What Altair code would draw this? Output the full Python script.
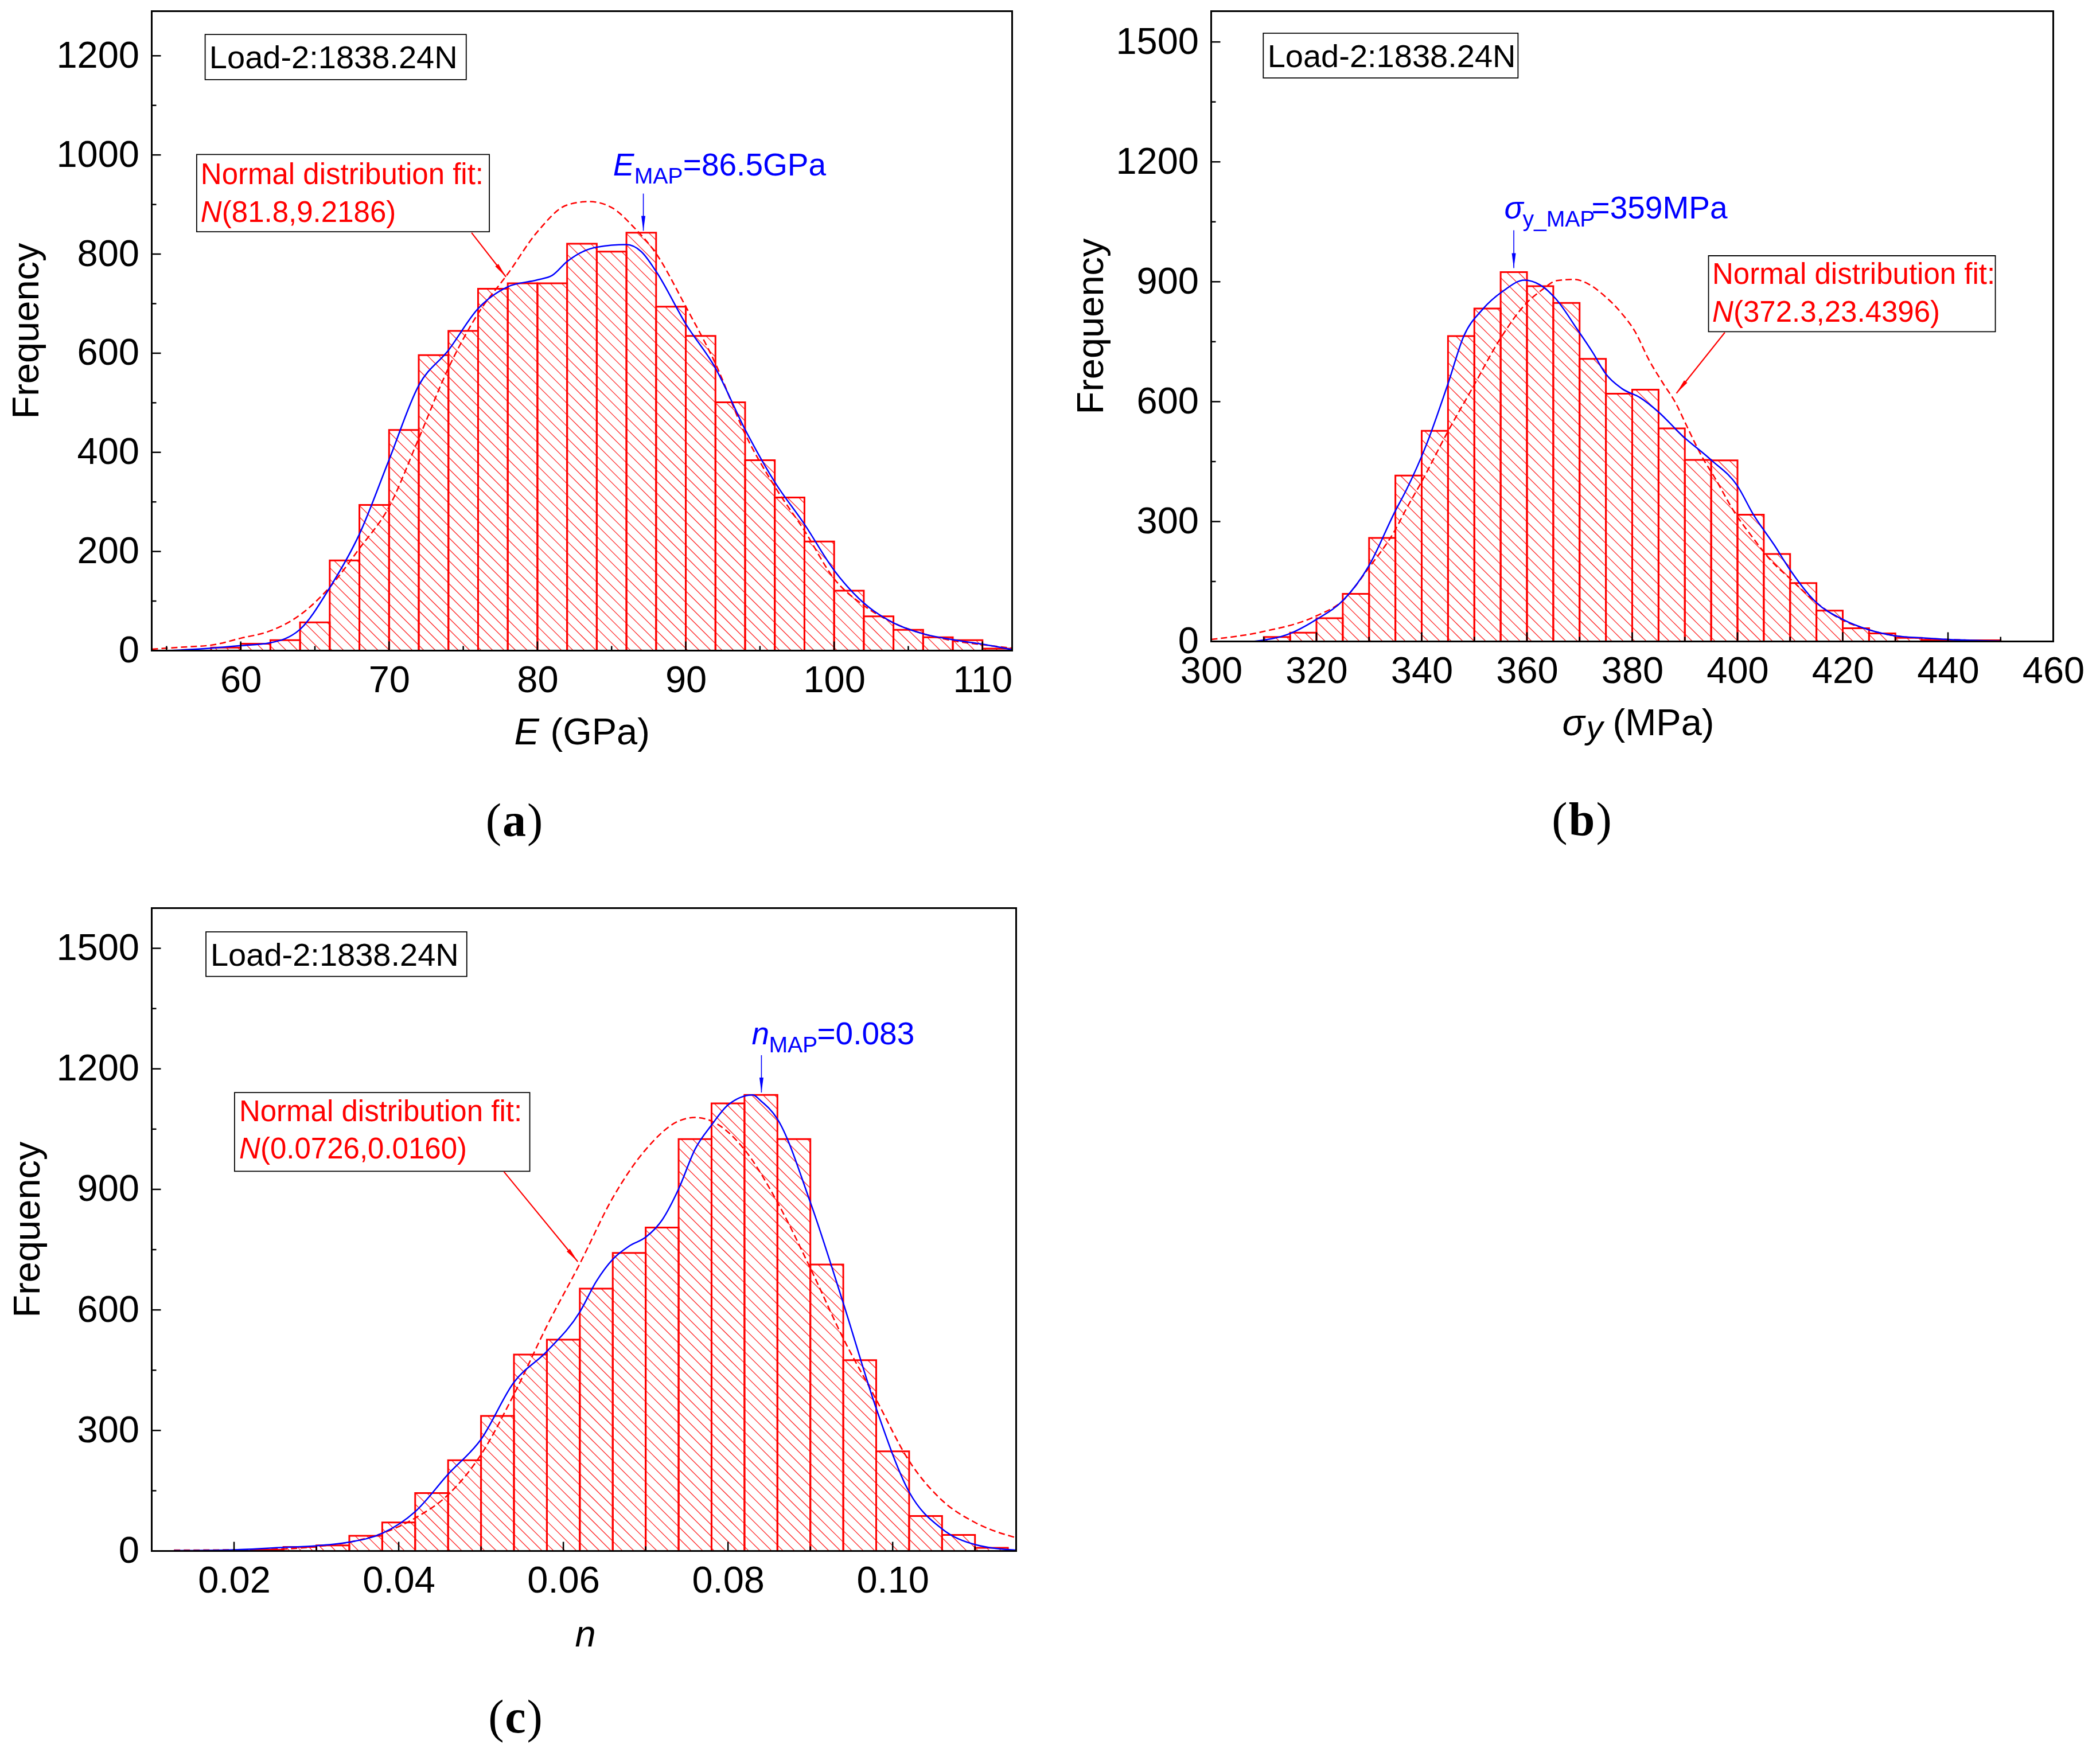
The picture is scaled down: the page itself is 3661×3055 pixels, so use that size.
import math

import altair as alt
import pandas as pd

RED = "#ff0000"
BLUE = "#0000ff"
SANS = "Liberation Sans"
SERIF = "Liberation Serif"

# ---------------- (a) elastic modulus E ----------------
E_BIN_LEFT = [58, 60, 62, 64, 66, 68, 70, 72, 74, 76, 78, 80, 82, 84, 86, 88, 90, 92, 94, 96,
              98, 100, 102, 104, 106, 108, 110]
E_COUNT = [6, 14, 21, 57, 182, 294, 445, 596, 645, 730, 741, 741, 821, 805, 843, 694, 635, 501,
           384, 309, 220, 121, 69, 42, 27, 21, 4]
E_KDE_X = [55, 58, 60, 62, 64, 66, 68, 70, 72, 74, 76, 78, 80, 81, 82, 84, 86, 87, 88, 90, 92,
           94, 96, 98, 100, 102, 104, 106, 108, 110, 112]
E_KDE_Y = [0, 5, 10, 16, 43, 127, 235, 385, 535, 606, 690, 734, 748, 757, 785, 814, 819, 805,
           765, 659, 570, 446, 340, 255, 162, 96, 56, 34, 22, 13, 2]
E_FIT_X = [54, 56, 58, 60, 62, 64, 66, 68, 70, 72, 74, 76, 78, 80, 82, 83.5, 85, 86.5, 88, 90,
           92, 94, 96, 98, 100, 102, 104, 106, 108, 110, 112]
E_FIT_Y = [3, 7, 11, 25, 40, 72, 128, 206, 290, 428, 570, 680, 760, 845, 899, 906, 894, 854, 801,
           694, 579, 437, 331, 242, 145, 91, 56, 34, 20, 12, 5]

# ---------------- (b) yield stress sigma_y ----------------
S_BIN_LEFT = [310, 315, 320, 325, 330, 335, 340, 345, 350, 355, 360, 365, 370, 375, 380, 385,
              390, 395, 400, 405, 410, 415, 420, 425, 430, 435, 440, 445]
S_COUNT = [11, 22, 58, 119, 259, 415, 527, 764, 833, 924, 889, 847, 707, 620, 630, 533, 454,
           453, 317, 219, 146, 77, 33, 20, 9, 4, 3, 3]
S_KDE_X = [308, 315, 320, 325, 330, 335, 337, 341, 345, 348, 351.5, 355.5, 359.5, 362.5, 365.5,
           369.5, 372.5, 375, 378, 381.5, 385, 389.5, 395, 400, 403, 407, 410, 415, 420, 425,
           430, 435, 440, 450]
S_KDE_Y = [0, 20, 55, 102, 190, 327, 377, 496, 645, 764, 830, 877, 904, 892, 857, 782, 723, 669,
           633, 610, 574, 515, 454, 389, 318, 241, 179, 97, 55, 29, 14, 9, 5, 1]
S_FIT_X = [300, 310, 320, 325, 330, 335, 337, 340, 345, 349.6, 355, 360, 362.6, 365.7, 368.9,
           371.6, 374.7, 377.8, 380.5, 383.2, 385.9, 388.2, 390.4, 393.1, 395.8, 399.4, 403,
           406.6, 410, 415, 420, 425, 430, 440, 450]
S_FIT_Y = [5, 25, 64, 102, 185, 280, 330, 400, 526, 633, 759, 848, 877, 903, 906, 895, 865, 824,
           776, 704, 645, 598, 538, 466, 407, 324, 258, 199, 157, 97, 53, 29, 14, 5, 2]

# ---------------- (c) hardening exponent n ----------------
N_BIN_LEFT = [0.022, 0.026, 0.030, 0.034, 0.038, 0.042, 0.046, 0.050, 0.054, 0.058, 0.062,
              0.066, 0.070, 0.074, 0.078, 0.082, 0.086, 0.090, 0.094, 0.098, 0.102, 0.106, 0.110]
N_COUNT = [3, 10, 14, 38, 71, 144, 226, 336, 489, 526, 653, 742, 805, 1025, 1114, 1135, 1025,
           713, 475, 248, 87, 40, 8]
N_KDE_X = [0.0127, 0.020, 0.026, 0.030, 0.034, 0.038, 0.042, 0.046, 0.050, 0.054, 0.058, 0.062,
           0.064, 0.066, 0.068, 0.070, 0.072, 0.074, 0.076, 0.078, 0.080, 0.083, 0.084, 0.086,
           0.090, 0.094, 0.098, 0.102, 0.106, 0.110, 0.115]
N_KDE_Y = [1, 3, 9, 13, 22, 44, 98, 191, 278, 420, 497, 595, 671, 726, 759, 781, 824, 901, 1000,
           1060, 1110, 1135, 1120, 1075, 868, 617, 355, 147, 55, 16, 2]
N_FIT_X = [0.0127, 0.020, 0.026, 0.030, 0.034, 0.038, 0.042, 0.046, 0.050, 0.054, 0.058, 0.062,
           0.066, 0.070, 0.074, 0.076, 0.078, 0.082, 0.086, 0.090, 0.094, 0.098, 0.102, 0.106,
           0.110, 0.115]
N_FIT_Y = [2, 3, 5, 11, 22, 44, 82, 140, 240, 390, 560, 715, 879, 999, 1070, 1079, 1070, 999,
           868, 704, 529, 377, 224, 126, 71, 33]


def hatch_segments(left, width, count, xd, yd, w, h, step=20):
    """45-degree hatch lines clipped to each bar, returned in data units."""
    px = w / (xd[1] - xd[0])
    py = h / (yd[1] - yd[0])
    rows = []
    for l, c in zip(left, count):
        L = (l - xd[0]) * px
        R = (l + width - xd[0]) * px
        T = (yd[1] - c) * py
        B = (yd[1] - 0) * py
        for k in range(math.floor((T - R) / step), math.ceil((B - L) / step) + 1):
            off = k * step
            xs_, xe_ = max(L, T - off), min(R, B - off)
            if xe_ - xs_ > 0.5:
                rows.append({"x": xd[0] + xs_ / px, "x2": xd[0] + xe_ / px,
                             "y": yd[1] - (xs_ + off) / py, "y2": yd[1] - (xe_ + off) / py})
    return pd.DataFrame(rows)


def make_panel(p):
    xd, yd, w, h = p["xdom"], p["ydom"], p["w"], p["h"]
    xs = alt.Scale(domain=xd, nice=False, zero=False)
    ys = alt.Scale(domain=yd, nice=False, zero=False)
    # same axis object everywhere so the layers merge into one axis
    xax = alt.Axis(values=p["xlabels"], format=p["xfmt"], title=None)
    yax = alt.Axis(values=p["ylabels"], format="d", title=None)

    def X(f):
        return alt.X(f, type="quantitative", scale=xs, axis=xax)

    def Y(f):
        return alt.Y(f, type="quantitative", scale=ys, axis=yax)

    def dtext(x, y, t, size, color="black", style="normal", dx=0, dy=0):
        return alt.Chart(pd.DataFrame({"x": [x], "y": [y], "t": [t]})).mark_text(
            align="left", baseline="alphabetic", font=SANS, fontSize=size,
            fontStyle=style, color=color, dx=dx, dy=dy,
        ).encode(x=X("x"), y=Y("y"), text="t:N")

    def ptext(px_, py_, t, size, style="normal", weight="normal", align="left",
              font=SANS, angle=0, baseline="alphabetic"):
        return alt.Chart(pd.DataFrame({"t": [t]})).mark_text(
            align=align, baseline=baseline, font=font, fontSize=size, fontStyle=style,
            fontWeight=weight, color="black", angle=angle,
        ).encode(x=alt.value(px_), y=alt.value(py_), text="t:N")

    layers = []

    # hatching
    hat = hatch_segments(p["left"], p["bin"], p["count"], xd, yd, w, h)
    layers.append(
        alt.Chart(hat).mark_rule(color=RED, strokeWidth=1.3, opacity=0.85).encode(
            x=X("x"), x2="x2", y=Y("y"), y2="y2"
        )
    )

    # bar outlines
    bars = pd.DataFrame({"x": p["left"], "count": p["count"]})
    bars["x2"] = bars["x"] + p["bin"]
    bars["y0"] = 0
    layers.append(
        alt.Chart(bars).mark_rect(fillOpacity=0, stroke=RED, strokeWidth=3).encode(
            x=X("x"), x2="x2", y=Y("y0"), y2="count"
        )
    )

    # normal fit (dashed) and density (blue)
    layers.append(
        alt.Chart(pd.DataFrame({"x": p["fit_x"], "y": p["fit_y"]})).mark_line(
            color=RED, strokeWidth=2.5, strokeDash=[11, 6], interpolate="monotone"
        ).encode(x=X("x"), y=Y("y"))
    )
    layers.append(
        alt.Chart(pd.DataFrame({"x": p["kde_x"], "y": p["kde_y"]})).mark_line(
            color=BLUE, strokeWidth=2.5, interpolate="monotone"
        ).encode(x=X("x"), y=Y("y"))
    )

    # annotation boxes
    a = p["ann"]
    boxes = pd.DataFrame([a["load_box"], a["fit_box"]], columns=["x", "x2", "y", "y2"])
    layers.append(
        alt.Chart(boxes).mark_rect(fill="white", stroke="black", strokeWidth=1.8).encode(
            x=X("x"), x2="x2", y=Y("y"), y2="y2"
        )
    )
    layers.append(dtext(a["load_txt"][0], a["load_txt"][1], "Load-2:1838.24N", 56))
    fx, fy1, fy2 = a["fit_txt"]
    layers.append(dtext(fx, fy1, "Normal distribution fit:", 51, RED))
    layers.append(dtext(fx, fy2, "N", 51, RED, "italic"))
    layers.append(dtext(fx, fy2, a["fit_par"], 51, RED, dx=37))

    mx, my = a["map_txt"]
    sym, sub, val = a["map_parts"]
    d1, d2 = a["map_dx"]
    layers.append(dtext(mx, my, sym, 55, BLUE, "italic"))
    layers.append(dtext(mx, my, sub, 39, BLUE, dx=d1, dy=14))
    layers.append(dtext(mx, my, val, 55, BLUE, dx=d2))

    # arrows
    arr = pd.DataFrame([a["fit_arrow"] + [RED, 2.2], a["map_arrow"] + [BLUE, 1.6]],
                       columns=["x", "y", "x2", "y2", "c", "sw"])
    sx = w / (xd[1] - xd[0])
    sy = h / (yd[1] - yd[0])
    arr["ang"] = [
        math.degrees(math.atan2((r.x2 - r.x) * sx, (r.y2 - r.y) * sy)) % 360
        for r in arr.itertuples()
    ]
    layers.append(
        alt.Chart(arr).mark_rule().encode(
            x=X("x"), x2="x2", y=Y("y"), y2="y2",
            color=alt.Color("c:N", scale=None),
            strokeWidth=alt.StrokeWidth("sw:Q", scale=None),
        )
    )
    layers.append(
        alt.Chart(arr).mark_point(
            shape="M0,0L0.27,2L-0.27,2Z", filled=True, size=676, opacity=1
        ).encode(
            x=X("x2"), y=Y("y2"),
            color=alt.Color("c:N", scale=None),
            angle=alt.Angle("ang:Q", scale=None),
        )
    )

    # inward ticks
    for vals, ln in ((p["xmaj"], 16), (p["xmin"], 8)):
        layers.append(
            alt.Chart(pd.DataFrame({"v": vals})).mark_rule(color="black", strokeWidth=2.5).encode(
                x=X("v"), y=alt.value(h), y2=alt.value(h - ln)
            )
        )
    for vals, ln in ((p["ymaj"], 16), (p["ymin"], 8)):
        layers.append(
            alt.Chart(pd.DataFrame({"v": vals})).mark_rule(color="black", strokeWidth=2.5).encode(
                y=Y("v"), x=alt.value(0), x2=alt.value(ln)
            )
        )

    # frame on top
    layers.append(
        alt.Chart(pd.DataFrame({"a": [0]})).mark_rect(
            fillOpacity=0, stroke="black", strokeWidth=3
        ).encode(x=alt.value(0), x2=alt.value(w), y=alt.value(0), y2=alt.value(h))
    )

    # axis titles and panel letter
    layers.append(ptext(p["ytitle_x"], h / 2, "Frequency", 65, align="center",
                        angle=270, baseline="middle"))
    for t, px_, py_, size, style in p["xtitle"]:
        layers.append(ptext(px_, py_, t, size, style=style))
    cx, cy, letter, half = p["letter"]
    layers.append(ptext(cx - half, cy, "(", 82, align="right", font=SERIF))
    layers.append(ptext(cx, cy, letter, 82, weight="bold", align="center", font=SERIF))
    layers.append(ptext(cx + half, cy, ")", 82, align="left", font=SERIF))

    return alt.layer(*layers).properties(width=w, height=h)


panel_a = make_panel({
    "xdom": [54, 112], "ydom": [0, 1290], "w": 1500, "h": 1115,
    "left": E_BIN_LEFT, "bin": 2, "count": E_COUNT,
    "kde_x": E_KDE_X, "kde_y": E_KDE_Y, "fit_x": E_FIT_X, "fit_y": E_FIT_Y,
    "xlabels": [60, 70, 80, 90, 100, 110], "xfmt": "d",
    "ylabels": [0, 200, 400, 600, 800, 1000, 1200],
    "xmaj": [60, 70, 80, 90, 100, 110], "xmin": [55, 65, 75, 85, 95, 105],
    "ymaj": [200, 400, 600, 800, 1000, 1200], "ymin": [100, 300, 500, 700, 900, 1100],
    "ann": {
        "load_box": [57.6, 75.2, 1243, 1152], "load_txt": [57.88, 1175],
        "fit_box": [57.03, 76.76, 1001, 845], "fit_txt": [57.3, 941, 865],
        "fit_par": "(81.8,9.2186)",
        "fit_arrow": [75.56, 843, 77.88, 754],
        "map_txt": [85.1, 958], "map_parts": ["E", "MAP", "=86.5GPa"], "map_dx": [37, 122],
        "map_arrow": [87.14, 922, 87.14, 847],
    },
    "ytitle_x": -218,
    "xtitle": [("E", 632, 1278, 65, "italic"), ("(GPa)", 695, 1278, 65, "normal")],
    "letter": (632, 1438, "a", 22.5),
})

panel_b = make_panel({
    "xdom": [300, 460], "ydom": [0, 1577], "w": 1468, "h": 1099,
    "left": S_BIN_LEFT, "bin": 5, "count": S_COUNT,
    "kde_x": S_KDE_X, "kde_y": S_KDE_Y, "fit_x": S_FIT_X, "fit_y": S_FIT_Y,
    "xlabels": [300, 320, 340, 360, 380, 400, 420, 440, 460], "xfmt": "d",
    "ylabels": [0, 300, 600, 900, 1200, 1500],
    "xmaj": [320, 340, 360, 380, 400, 420, 440], "xmin": [310, 330, 350, 370, 390, 410, 430, 450],
    "ymaj": [300, 600, 900, 1200, 1500], "ymin": [150, 450, 750, 1050, 1350],
    "ann": {
        "load_box": [309.9, 358.3, 1522, 1410], "load_txt": [310.7, 1437],
        "fit_box": [394.5, 449.0, 965, 775], "fit_txt": [395.2, 894, 800],
        "fit_par": "(372.3,23.4396)",
        "fit_arrow": [397.6, 773, 388.4, 621],
        "map_txt": [355.7, 1058], "map_parts": ["σ", "y_MAP", "=359MPa"], "map_dx": [32, 152],
        "map_arrow": [357.5, 1029, 357.5, 934],
    },
    "ytitle_x": -209,
    "xtitle": [("σ", 612, 1262, 65, "italic"), ("y", 654, 1268, 58, "italic"),
               ("(MPa)", 700, 1262, 65, "normal")],
    "letter": (646, 1436, "b", 25),
})

panel_c = make_panel({
    "xdom": [0.01, 0.115], "ydom": [0, 1600], "w": 1507, "h": 1121,
    "left": N_BIN_LEFT, "bin": 0.004, "count": N_COUNT,
    "kde_x": N_KDE_X, "kde_y": N_KDE_Y, "fit_x": N_FIT_X, "fit_y": N_FIT_Y,
    "xlabels": [0.02, 0.04, 0.06, 0.08, 0.10], "xfmt": ".2f",
    "ylabels": [0, 300, 600, 900, 1200, 1500],
    "xmaj": [0.02, 0.04, 0.06, 0.08, 0.10], "xmin": [0.03, 0.05, 0.07, 0.09, 0.11],
    "ymaj": [300, 600, 900, 1200, 1500], "ymin": [150, 450, 750, 1050, 1350],
    "ann": {
        "load_box": [0.01659, 0.04827, 1541, 1430], "load_txt": [0.01714, 1457],
        "fit_box": [0.02006, 0.05592, 1141, 945], "fit_txt": [0.02062, 1070, 977],
        "fit_par": "(0.0726,0.0160)",
        "fit_arrow": [0.05278, 944, 0.06175, 720],
        "map_txt": [0.08288, 1261], "map_parts": ["n", "MAP", "=0.083"], "map_dx": [30, 114],
        "map_arrow": [0.08406, 1234, 0.08406, 1141],
    },
    "ytitle_x": -216,
    "xtitle": [("n", 738, 1287, 65, "italic")],
    "letter": (634, 1437, "c", 20),
})

chart = (
    alt.concat(panel_a, panel_b, panel_c, columns=2, bounds="flush",
               spacing={"row": 449, "column": 340})
    .properties(padding={"left": 6.5, "top": 9.5, "right": 5, "bottom": 5})
    .configure_view(strokeWidth=0)
    .configure_axis(labelFont=SANS, labelFontSize=65, labelColor="black", ticks=False,
                    tickSize=0, domain=False, grid=False, labelFlush=False,
                    labelOverlap=False, labelBound=False)
    .configure_axisX(labelPadding=21)
    .configure_axisY(labelPadding=22)
)

chart.save("out.html", embed_options={"renderer": "svg", "actions": False})
